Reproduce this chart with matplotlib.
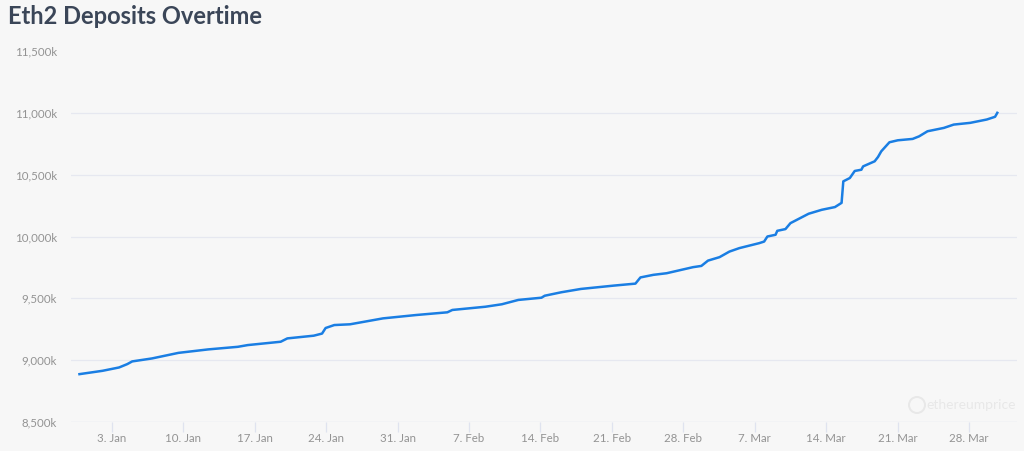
import matplotlib
matplotlib.use("Agg")
import matplotlib.pyplot as plt
from matplotlib.patches import Ellipse
from matplotlib.ticker import FuncFormatter, FixedLocator
import pandas as pd

# ---------------- data ----------------
title = "Eth2 Deposits Overtime"
start_date = "2021-01-01"
# days since start_date (fractional)
day_offset = [-1.17, 1.09, 2.71, 3.51, 4.00, 5.94, 8.53, 11.44, 14.35, 15.32,
              18.55, 19.20, 21.79, 22.60, 22.95, 23.80, 25.34, 28.58, 31.81,
              34.88, 35.37, 38.60, 40.22, 41.83, 44.10, 44.42, 46.04, 47.97,
              51.20, 53.31, 53.80, 55.07, 56.37, 58.95, 59.77, 60.42, 61.55,
              62.52, 63.49, 65.43, 65.92, 66.24, 67.04, 67.21, 68.01, 68.50,
              70.28, 71.57, 72.86, 73.51, 73.68, 74.32, 74.80, 75.45, 75.62,
              76.75, 77.08, 77.40, 78.20, 79.02, 80.47, 81.11, 81.93, 83.53,
              84.50, 86.12, 87.74, 88.55, 88.77]
deposits_k = [8887, 8914, 8941, 8968, 8990, 9014, 9059, 9087, 9108, 9122,
              9149, 9176, 9198, 9215, 9260, 9284, 9290, 9338, 9365,
              9387, 9406, 9432, 9452, 9487, 9505, 9521, 9549, 9576,
              9603, 9619, 9669, 9690, 9703, 9752, 9762, 9805, 9833,
              9878, 9906, 9946, 9959, 10000, 10014, 10046, 10060, 10108,
              10184, 10216, 10238, 10272, 10446, 10473, 10530, 10540, 10567,
              10608, 10643, 10689, 10762, 10778, 10789, 10810, 10851, 10878,
              10905, 10919, 10946, 10968, 11000]
y_ticks = [8500, 9000, 9500, 10000, 10500, 11000, 11500]
x_tick_dates = ["2021-01-03", "2021-01-10", "2021-01-17", "2021-01-24",
                "2021-01-31", "2021-02-07", "2021-02-14", "2021-02-21",
                "2021-02-28", "2021-03-07", "2021-03-14", "2021-03-21",
                "2021-03-28"]
x_tick_labels = ["3. Jan", "10. Jan", "17. Jan", "24. Jan", "31. Jan",
                 "7. Feb", "14. Feb", "21. Feb", "28. Feb", "7. Mar",
                 "14. Mar", "21. Mar", "28. Mar"]

# ---------------- plot ----------------
plt.rcParams['font.family'] = ['Lato', 'DejaVu Sans']
bg = "#f7f7f7"
fig = plt.figure(figsize=(10.24, 4.51), dpi=100, facecolor=bg)
ax = fig.add_axes([71/1024, 29/451, (1017-71)/1024, (422-51)/451])
ax.set_facecolor(bg)

dates = pd.Timestamp(start_date) + pd.to_timedelta(day_offset, unit="D")
ax.plot(dates, deposits_k, color="#1a7ee3", lw=1.8, solid_joinstyle="round",
        zorder=3)

ax.set_ylim(8500, 11500)
ax.yaxis.set_major_locator(FixedLocator(y_ticks))
ax.yaxis.set_major_formatter(FuncFormatter(lambda v, p: f"{int(v):,}k"))
x0 = pd.Timestamp(start_date) - pd.Timedelta(days=2.0)
x1 = pd.Timestamp(start_date) + pd.Timedelta(days=90.7)
ax.set_xlim(x0, x1)
ax.set_xticks(pd.to_datetime(x_tick_dates))
ax.set_xticklabels(x_tick_labels)

for v in y_ticks[1:-1]:
    ax.axhline(v, color="#e6e8f0", lw=0.9, zorder=1)
ax.axhline(y_ticks[0], color="#dfe3ef", lw=1.0, zorder=1)

for s in ax.spines.values():
    s.set_visible(False)
ax.tick_params(axis="y", length=0, pad=10, labelsize=8.3, labelcolor="#939393")
ax.tick_params(axis="x", length=7, width=0.9, color="#dfe3ef", pad=1,
               labelsize=8.3, labelcolor="#939393")

fig.text(8/1024, 1 - 16/451, title, fontsize=17, fontweight="bold",
         color="#3b4658", va="center", ha="left")

# watermark
fig.text(1016/1024, 1 - 405/451, "ethereumprice", fontsize=10,
         color="#e8e8e8", ha="right", va="center")
fig.add_artist(Ellipse((917/1024, 1 - 405/451), 16/1024, 16/451,
                       transform=fig.transFigure, fill=False,
                       ec="#e8e8e8", lw=1.4))

fig.savefig("out.png", dpi=100, facecolor=bg)
